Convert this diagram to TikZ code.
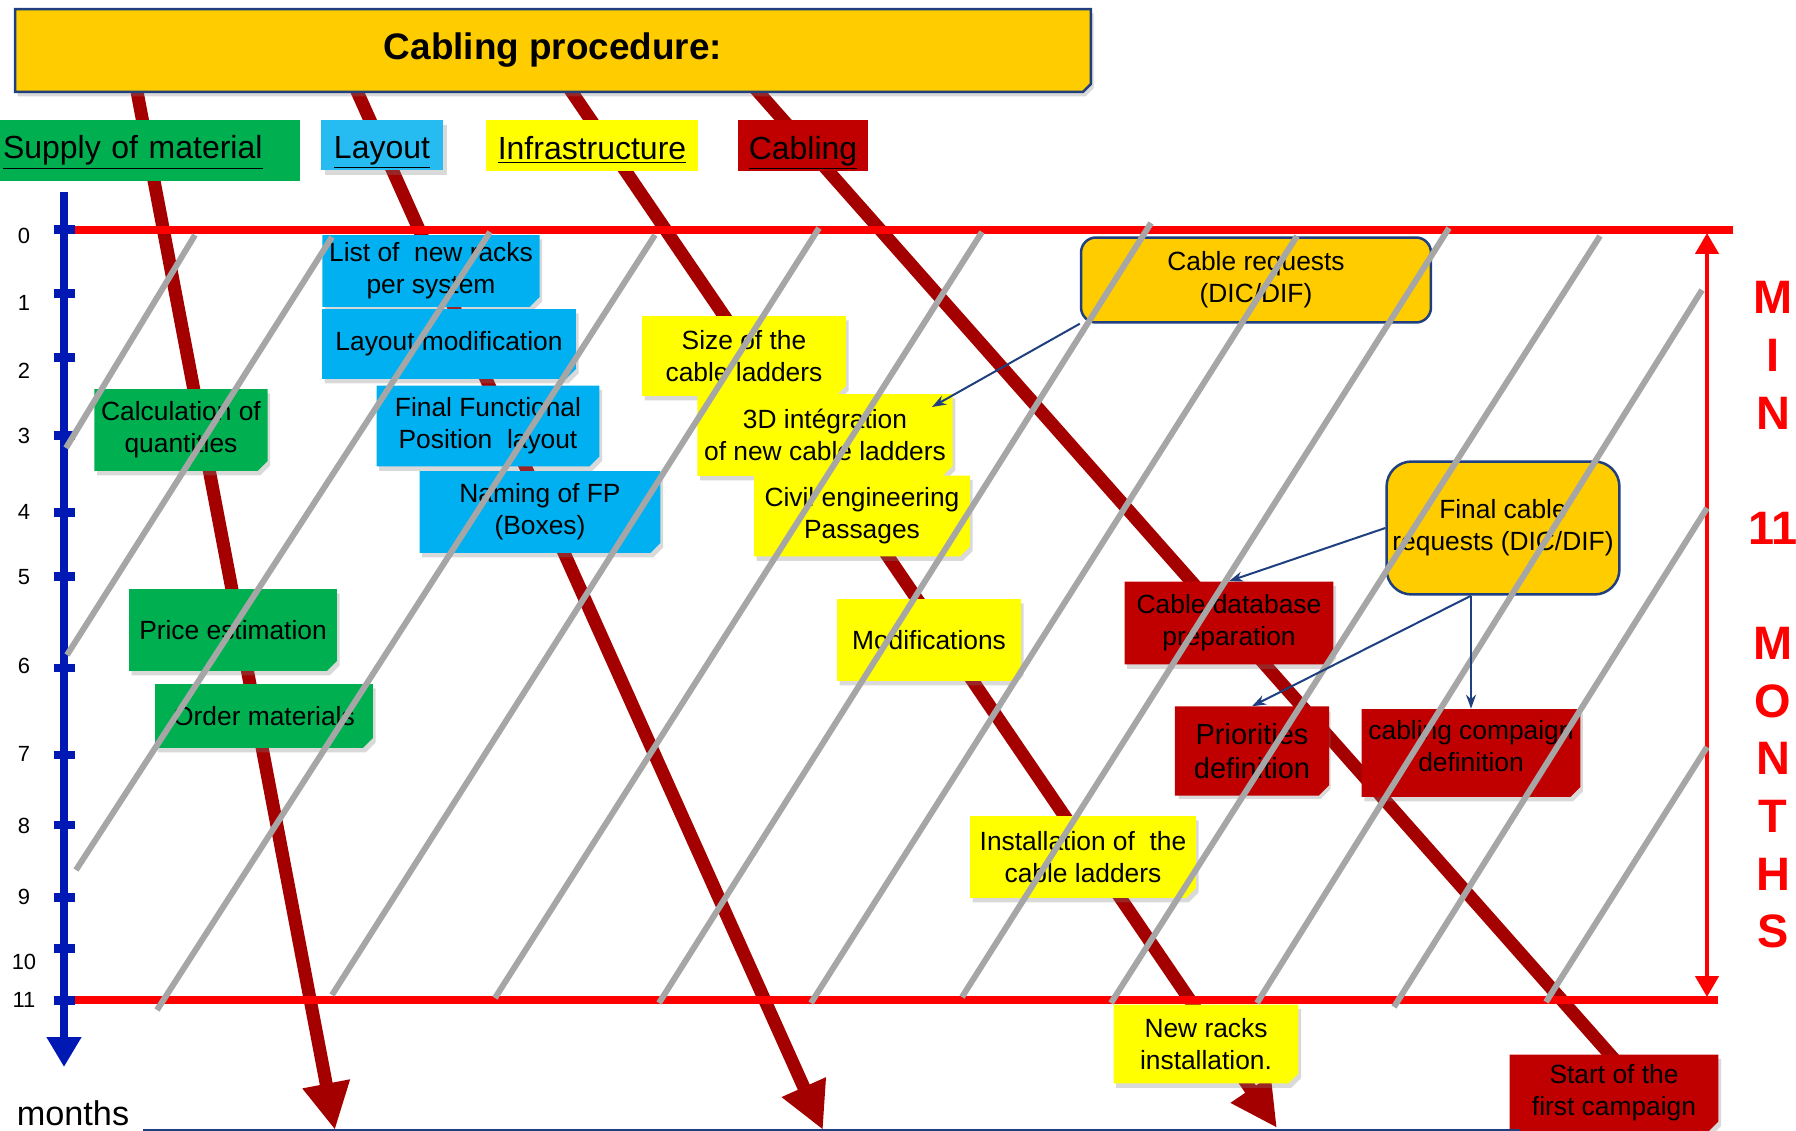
\documentclass[tikz,border=0pt]{standalone}
\usepackage{fontspec}
\setmainfont{Liberation Sans}
\usetikzlibrary{arrows.meta,shapes.misc,shadows}

\definecolor{gold}{HTML}{FFCC00}
\definecolor{navy}{HTML}{1F3F7F}
\definecolor{leaf}{HTML}{00B050}
\definecolor{sky}{HTML}{00B0F0}
\definecolor{lemon}{HTML}{FFFF00}
\definecolor{wine}{HTML}{C00000}
\definecolor{flowred}{HTML}{A50000}
\definecolor{axisblue}{HTML}{0019B5}
\definecolor{hatchgray}{HTML}{A6A6A6}

\tikzset{
  note/.style={chamfered rectangle, chamfered rectangle corners=south east,
    chamfered rectangle sep=0.1cm, inner sep=1pt, align=center,
    font=\fontsize{15}{18.2}\selectfont,
    drop shadow={opacity=0.3, shadow xshift=1.5pt, shadow yshift=-2.5pt}},
  supplybox/.style={note, fill=leaf},
  layoutbox/.style={note, fill=sky},
  infrabox/.style={note, fill=lemon},
  cablebox/.style={note, fill=wine},
  requestbox/.style={rectangle, rounded corners=0.3cm, draw=navy, line width=0.05cm,
    fill=gold, align=center, font=\fontsize{15}{18.2}\selectfont},
  header/.style={rectangle, inner sep=1pt, text height=0.7cm, text depth=0.15cm,
    font=\fontsize{18.2}{21}\selectfont},
  flow/.style={flowred, line width=0.26cm, -{Triangle[length=0.94cm,width=0.9cm]}},
  limit/.style={red, line width=0.15cm},
  hatchline/.style={hatchgray, line width=0.12cm},
  link/.style={navy, line width=0.04cm, -{Stealth[length=0.28cm,width=0.2cm]}}
}

\begin{document}
\begin{tikzpicture}[x=0.02cm,y=-0.02cm]
\useasboundingbox (0,0) rectangle (1796,1131);

\draw[flow] (131,60) -- (335,1130);
\draw[flow] (343,60) -- (823,1130);
\draw[flow] (550,60) -- (1277,1128);
\draw[flow] (730,60) -- (1675,1128);

\node[note, fill=gold, draw=navy, line width=0.05cm, chamfered rectangle sep=0.08cm,
  minimum width=21.52cm, minimum height=1.66cm, font=\bfseries\fontsize{21}{25}\selectfont]
  (title) at (553,50.5) {Cabling procedure:};

\node[header, fill=leaf, minimum width=6cm, minimum height=1.22cm, text width=5.88cm, align=left,
  text height=0.52cm, text depth=0.18cm]
  (hsupply) at (150,150.5) {\underline{Supply of material}};
\node[header, fill=sky!85!white, minimum width=2.44cm, minimum height=1cm,
  drop shadow={opacity=0.3, shadow xshift=2pt, shadow yshift=-3pt}]
  (hlayout) at (382,145) {\underline{Layout}};
\node[header, fill=lemon, minimum width=4.24cm, minimum height=1.02cm]
  (hinfra) at (592,145.5) {\underline{Infrastructure}};
\node[header, fill=wine, minimum width=2.6cm, minimum height=1.02cm]
  (hcabling) at (803,145.5) {\underline{Cabling}};

\node[supplybox, minimum width=3.46cm, minimum height=1.64cm] (calc) at (181,430) {Calculation of\\quantities};
\node[supplybox, minimum width=4.16cm, minimum height=1.64cm] (price) at (233,630) {Price estimation};
\node[supplybox, minimum width=4.36cm, minimum height=1.28cm] (order) at (264,716) {Order materials};

\node[layoutbox, minimum width=4.34cm, minimum height=1.44cm] (racks) at (431,271) {List of\ \ new racks\\per system};
\node[layoutbox, minimum width=5.08cm, minimum height=1.4cm] (laymod) at (449,344) {Layout modification};
\node[layoutbox, minimum width=4.46cm, minimum height=1.62cm] (ffp) at (488,426) {Final Functional\\Position\ \ layout};
\node[layoutbox, minimum width=4.82cm, minimum height=1.64cm] (naming) at (540,512) {Naming of FP\\(Boxes)};

\node[infrabox, minimum width=4.08cm, minimum height=1.6cm] (size) at (744,356) {Size of the\\cable ladders};
\node[infrabox, minimum width=4.98cm, minimum height=1.64cm] (int3d) at (825,435) {3D intégration\\of new cable ladders};
\node[infrabox, minimum width=4.32cm, minimum height=1.62cm] (civil) at (862,516) {Civil engineering\\Passages};
\node[infrabox, minimum width=3.68cm, minimum height=1.64cm] (modif) at (929,640) {Modifications};
\node[infrabox, minimum width=4.52cm, minimum height=1.64cm] (install) at (1083,857) {Installation of\ \ the\\cable ladders};
\node[infrabox, minimum width=3.7cm, minimum height=1.58cm] (newracks) at (1206,1044) {New racks\\installation.};

\node[cablebox, minimum width=4.18cm, minimum height=1.66cm] (db) at (1229,623) {Cable database\\preparation};
\node[cablebox, minimum width=3.04cm, minimum height=1.74cm, draw=red!75!black, line width=0.05cm,
  font=\fontsize{16.5}{19.4}\selectfont] (prio) at (1252,751) {Priorities\\definition};
\node[cablebox, minimum width=4.14cm, minimum height=1.76cm, text depth=0.3cm] (camp) at (1471,753) {cabling compaign\\definition};
\node[cablebox, minimum width=4.18cm, minimum height=1.54cm] (start) at (1614,1093) {Start of the\\first campaign};

\node[requestbox, minimum width=7cm, minimum height=1.7cm] (req) at (1256,280) {Cable requests\\(DIC/DIF)};
\node[requestbox, rounded corners=0.5cm, minimum width=4.5cm, minimum height=2.66cm] (fin) at (1503,528) {Final cable\\requests (DIC/DIF)};

\coordinate (t0) at (63,230);
\coordinate (t1) at (1733,230);
\coordinate (b0) at (71,1000);
\coordinate (b1) at (1718,1000);
\draw[limit] (t0) -- (t1);
\draw[limit] (b0) -- (b1);
\coordinate (s0) at (1707,233);
\coordinate (s1) at (1707,997);
\draw[red, line width=0.09cm, {Triangle[length=0.42cm,width=0.46cm]}-{Triangle[length=0.42cm,width=0.46cm]}] (s0) -- (s1);

\coordinate (ax0) at (64,192);
\coordinate (ax1) at (64,1067);
\draw[axisblue, line width=0.18cm, -{Triangle[length=0.6cm,width=0.66cm]}] (ax0) -- (ax1);
\foreach \m/\ty/\ly in {0/230/236, 1/294/303, 2/358/371, 3/436/436, 4/513/512, 5/577/577,
  6/668/666, 7/755/754, 8/825/826, 9/897/897, 10/948/962, 11/1000/1000}{
  \draw[axisblue, line width=0.18cm] (54,\ty) -- (75,\ty);
  \node[font=\fontsize{12.5}{14}\selectfont] (lab\m) at (24,\ly) {\m};
}
\node[font=\fontsize{19.5}{22}\selectfont, anchor=base] (months) at (73,1125) {months};
\coordinate (base0) at (143,1130);
\coordinate (base1) at (1520,1130);
\draw[navy, line width=0.04cm] (base0) -- (base1);

\foreach \xa/\ya/\xb/\yb in {195/235/66/448, 332/237/67/655, 490/232/76/870,
  655/235/157/1010, 819/228/332/995, 982/232/495/998, 1151/223/659/1003,
  1297/236/811/1003, 1449/228/962/997, 1600/236/1111/1003, 1702/290/1257/1003,
  1707/508/1394/1007, 1707/747/1546/1002}
  \draw[hatchline] (\xa,\ya) -- (\xb,\yb);

\coordinate (p3d) at (932,407);
\coordinate (fork) at (camp.north |- fin.south);
\draw[link] (req.south west) -- (p3d);
\draw[link] (fin.west) -- (db.north);
\draw[link] (fork) -- (prio.north);
\draw[link] (fork) -- (camp.north);

\node[text=red, align=center, font=\bfseries\fontsize{26.7}{32.8}\selectfont]
  (minmonths) at (1773,615) {M\\I\\N\\[32.8pt]11\\[32.8pt]M\\O\\N\\T\\H\\S};
\end{tikzpicture}
\end{document}
